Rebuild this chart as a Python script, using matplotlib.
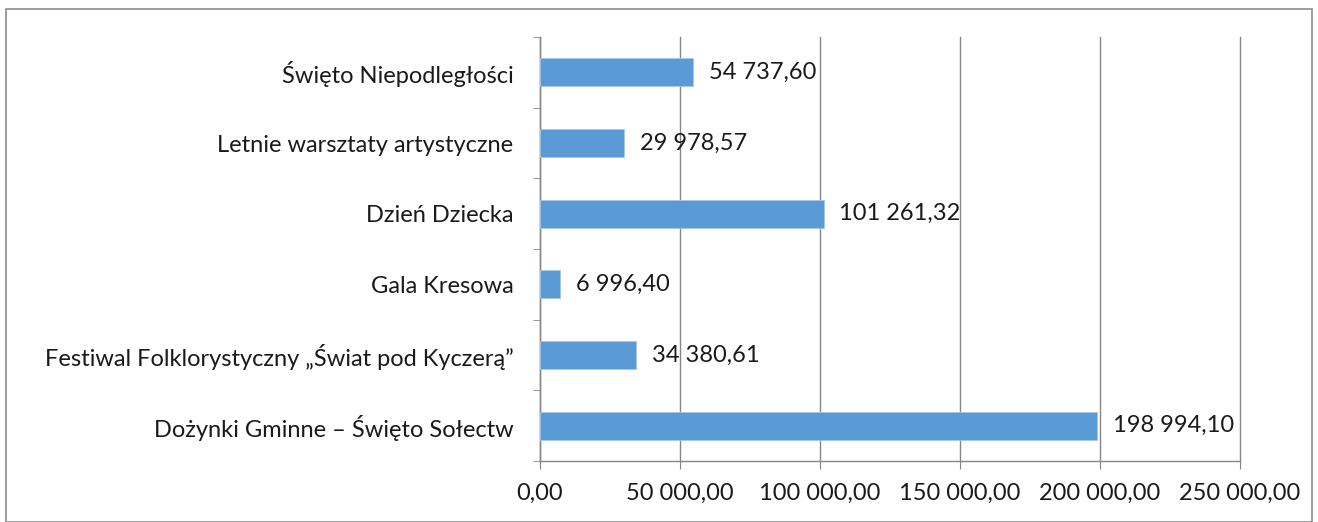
import matplotlib
matplotlib.use('Agg')
import matplotlib.pyplot as plt
from matplotlib.patches import Rectangle
from matplotlib.ticker import FuncFormatter, FixedLocator

categories = [
    'Dożynki Gminne – Święto Sołectw',
    'Festiwal Folklorystyczny „Świat pod Kyczerą”',
    'Gala Kresowa',
    'Dzień Dziecka',
    'Letnie warsztaty artystyczne',
    'Święto Niepodległości',
]
values = [198994.10, 34380.61, 6996.40, 101261.32, 29978.57, 54737.60]
x_ticks = [0, 50000, 100000, 150000, 200000, 250000]


def pl_fmt(v, pos=None):
    s = f"{v:,.2f}"
    return s.replace(',', ' ').replace('.', ',')


plt.rcParams['font.family'] = ['Lato', 'DejaVu Sans']
FS = 17

W, H = 1318, 522
fig = plt.figure(figsize=(W / 100, H / 100), dpi=100)
ax = fig.add_axes([540 / W, 1 - 461 / H, 700 / W, 424 / H])

# outer frame
fig.patches.append(Rectangle((6 / W, 0), (1312 - 6) / W, 1 - 9 / H, transform=fig.transFigure,
                             fill=False, edgecolor='#8c8c8c', linewidth=1.2))

y = list(range(len(categories)))
ax.barh(y, values, height=0.4, color='#5b9bd5', edgecolor='#a9c8ea', linewidth=0.6, zorder=3)
for yi, v in zip(y, values):
    ax.text(v + 5700, yi, pl_fmt(v), va='center', ha='left', fontsize=FS, color='#1a1a1a')

ax.set_xlim(0, 250000)
ax.set_ylim(-0.5, len(categories) - 0.5)
ax.xaxis.set_major_locator(FixedLocator(x_ticks))
ax.xaxis.set_major_formatter(FuncFormatter(pl_fmt))
ax.set_yticks(y)
ax.set_yticklabels(categories)
ax.set_yticks([i - 0.5 for i in range(len(categories) + 1)], minor=True)

ax.grid(axis='x', color='#868686', linewidth=1, zorder=0)
for gl in ax.get_xgridlines():
    gl.set_clip_on(False)
for s in ['top', 'right']:
    ax.spines[s].set_visible(False)
for s in ['left', 'bottom']:
    ax.spines[s].set_color('#868686')
    ax.spines[s].set_linewidth(1)

ax.tick_params(axis='y', which='major', length=0, pad=19, labelsize=FS, labelcolor='#1a1a1a')
ax.tick_params(axis='y', which='minor', length=5, color='#868686')
ax.tick_params(axis='x', length=6, color='#868686', pad=10, labelsize=FS, labelcolor='#1a1a1a')

fig.savefig('out.png', dpi=100)
